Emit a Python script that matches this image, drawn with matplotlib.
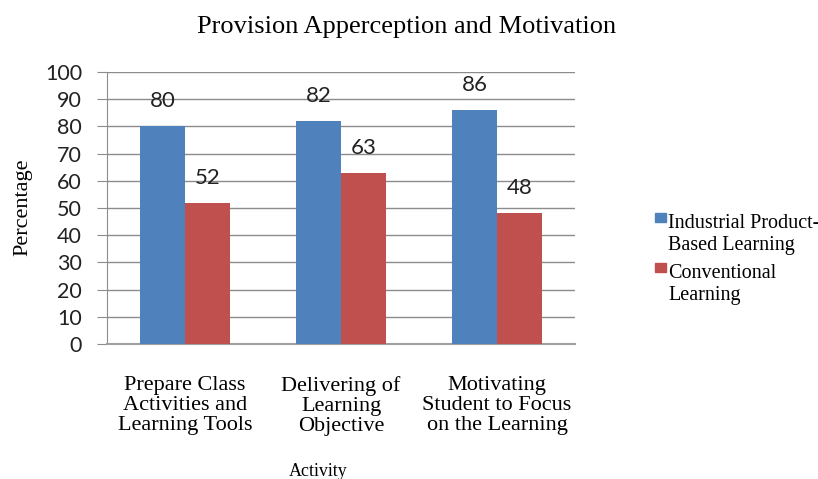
import numpy as np
import matplotlib.pyplot as plt
from matplotlib.patches import Rectangle

categories = ['Prepare Class\nActivities and\nLearning Tools',
              'Delivering of\nLearning\nObjective',
              'Motivating\nStudent to Focus\non the Learning']
industrial = [80, 82, 86]
conventional = [52, 63, 48]
series_names = ['Industrial Product-\nBased Learning', 'Conventional\nLearning']
colors = ['#4F81BD', '#C0504D']

serif = ['Liberation Serif', 'DejaVu Serif']
sans = ['Lato', 'DejaVu Sans']

W, H = 818, 479
fig = plt.figure(figsize=(W/100, H/100), dpi=100)
ax = fig.add_axes([107/W, 1-344/H, 468/W, 272/H])

x = np.arange(len(categories))
w = 0.288
b1 = ax.bar(x - w/2, industrial, w, color=colors[0], label=series_names[0], zorder=3)
b2 = ax.bar(x + w/2, conventional, w, color=colors[1], label=series_names[1], zorder=3)

for bars, vals in ((b1, industrial), (b2, conventional)):
    for r, v in zip(bars, vals):
        ax.annotate(str(v), (r.get_x() + r.get_width()/2, v), xytext=(0, 18),
                    textcoords='offset points', ha='center', va='center',
                    fontsize=16, family=sans, color='#222222')

ax.set_xlim(-0.5, 2.5)
ax.set_ylim(0, 100)
ax.set_yticks(range(0, 101, 10))
ax.yaxis.grid(True, color='#8c8c8c', linewidth=1, zorder=0)
for s in ['top', 'right']:
    ax.spines[s].set_visible(False)
ax.spines['left'].set_color('#8c8c8c')
ax.spines['bottom'].set_color('#a0a0a0')
ax.spines['bottom'].set_linewidth(1.5)
ax.tick_params(axis='y', length=7, color='#8c8c8c', labelsize=15.5, pad=11)
for t in ax.get_yticklabels():
    t.set_family(sans)
    t.set_color('#222222')
ax.set_xticks(x)
ax.set_xticklabels(categories, family=serif, fontsize=16, linespacing=1.07)
ax.tick_params(axis='x', length=0, pad=23)

fig.text(23/W, 1-207/H, 'Percentage', rotation=90, ha='center', va='center',
         family=serif, fontsize=16)
fig.text(318/W, 1-471/H, 'Activity', ha='center', va='center', family=serif, fontsize=13)

fig.text(407/W, 1-27/H, 'Provision Apperception and Motivation', ha='center', va='center',
         family=serif, fontsize=19)

# legend, drawn by hand so the swatch sits by the first text line
for i, (name, c) in enumerate(zip(series_names, colors)):
    y_line = 225 + i * 50
    fig.patches.append(Rectangle((655/W, 1-(y_line-3)/H), 11/W, 9/H, color=c,
                                 transform=fig.transFigure, figure=fig))
    fig.text(668/W, 1-(y_line-11)/H, name, ha='left', va='top', family=serif,
             fontsize=14.5, linespacing=1.18)

fig.savefig('out.png', dpi=100)
